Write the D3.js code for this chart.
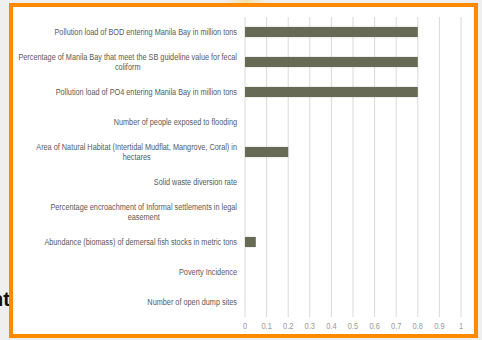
<!DOCTYPE html>
<html>
<head>
<meta charset="utf-8">
<script src="https://cdn.jsdelivr.net/npm/d3@7"></script>
<style>
  body { margin: 0; background: #efefef; }
  svg { display: block; }
</style>
</head>
<body>
<div id="chart"></div>
<script>
const width = 482;
const height = 340;

// data
const categories = [
  "Pollution load of BOD entering Manila Bay in million tons",
  "Percentage of Manila Bay that meet the SB guideline value for fecal|coliform",
  "Pollution load of PO4 entering Manila Bay in million tons",
  "Number of people exposed to flooding",
  "Area of Natural Habitat (Intertidal Mudflat, Mangrove, Coral) in|hectares",
  "Solid waste diversion rate",
  "Percentage encroachment of Informal settlements in legal|easement",
  "Abundance (biomass) of demersal fish stocks in metric tons",
  "Poverty Incidence",
  "Number of open dump sites"
];
const values = [0.8, 0.8, 0.8, 0, 0.2, 0, 0, 0.05, 0, 0];
const tickValues = [0, 0.1, 0.2, 0.3, 0.4, 0.5, 0.6, 0.7, 0.8, 0.9, 1];

const font = "Liberation Sans, Arial, sans-serif";
const narrow = 0.83; // fake a narrow face, no Arial Narrow here

const svg = d3.select("#chart")
  .append("svg")
  .attr("width", width)
  .attr("height", height);

// slide background
const defs = svg.append("defs");
const glow = defs.append("radialGradient").attr("id", "glow");
glow.append("stop").attr("offset", "0%").attr("stop-color", "#f3df9a");
glow.append("stop").attr("offset", "100%").attr("stop-color", "#efefef").attr("stop-opacity", 0);

svg.append("rect").attr("width", width).attr("height", height).attr("fill", "#efefef");
svg.append("ellipse")
  .attr("cx", 246).attr("cy", 0).attr("rx", 30).attr("ry", 14)
  .attr("fill", "url(#glow)");

// slide text peeking out behind the box
svg.append("text")
  .attr("x", 10).attr("y", 306)
  .attr("text-anchor", "end")
  .attr("font-family", font)
  .attr("font-weight", "bold")
  .attr("font-size", 20)
  .attr("fill", "#111")
  .text("nt");

// chart box
svg.append("rect")
  .attr("x", 11).attr("y", 5)
  .attr("width", 465).attr("height", 331)
  .attr("fill", "#fff")
  .attr("stroke", "#ff8a00")
  .attr("stroke-width", 4);

const x = d3.scaleLinear()
  .domain([0, 1])
  .range([245, 461]);

const y = d3.scaleBand()
  .domain(categories)
  .range([17, 317])
  .paddingInner(0.66)
  .paddingOuter(0.33);

// gridlines
svg.append("g")
  .selectAll("line")
  .data(tickValues)
  .join("line")
  .attr("x1", d => x(d)).attr("x2", d => x(d))
  .attr("y1", 17).attr("y2", 317)
  .attr("stroke", "#d9d9d9")
  .attr("stroke-width", 1);

// bars
svg.append("g")
  .selectAll("rect")
  .data(values)
  .join("rect")
  .attr("x", x(0))
  .attr("y", (d, i) => y(categories[i]))
  .attr("width", d => x(d) - x(0))
  .attr("height", y.bandwidth())
  .attr("fill", "#676a54");

// x axis labels
svg.append("g")
  .selectAll("text")
  .data(tickValues)
  .join("text")
  .attr("transform", d => `translate(${x(d)},329) scale(${narrow},1)`)
  .attr("text-anchor", "middle")
  .attr("font-family", font)
  .attr("font-size", 9)
  .attr("fill", "#999")
  .text(d => d3.format("~g")(d));

// category labels
const labelRight = 237;
svg.append("g")
  .selectAll("g")
  .data(categories)
  .join("g")
  .attr("transform", d => `translate(${labelRight},${y(d) + y.bandwidth() / 2}) scale(${narrow},1)`)
  .each(function(d) {
    const lines = d.split("|");
    const t = d3.select(this).append("text")
      .attr("font-family", font)
      .attr("font-size", 8.8)
      .attr("fill", "#595959");
    if (lines.length === 1) {
      t.attr("text-anchor", "end").attr("dy", "0.35em").text(lines[0]);
    } else {
      t.attr("text-anchor", "middle");
      const first = t.append("tspan").attr("y", -5).attr("dy", "0.35em").text(lines[0]);
      const mid = -first.node().getComputedTextLength() / 2;
      first.attr("x", mid);
      t.append("tspan").attr("x", mid).attr("y", 5).attr("dy", "0.35em").text(lines[1]);
    }
  });
</script>
</body>
</html>
